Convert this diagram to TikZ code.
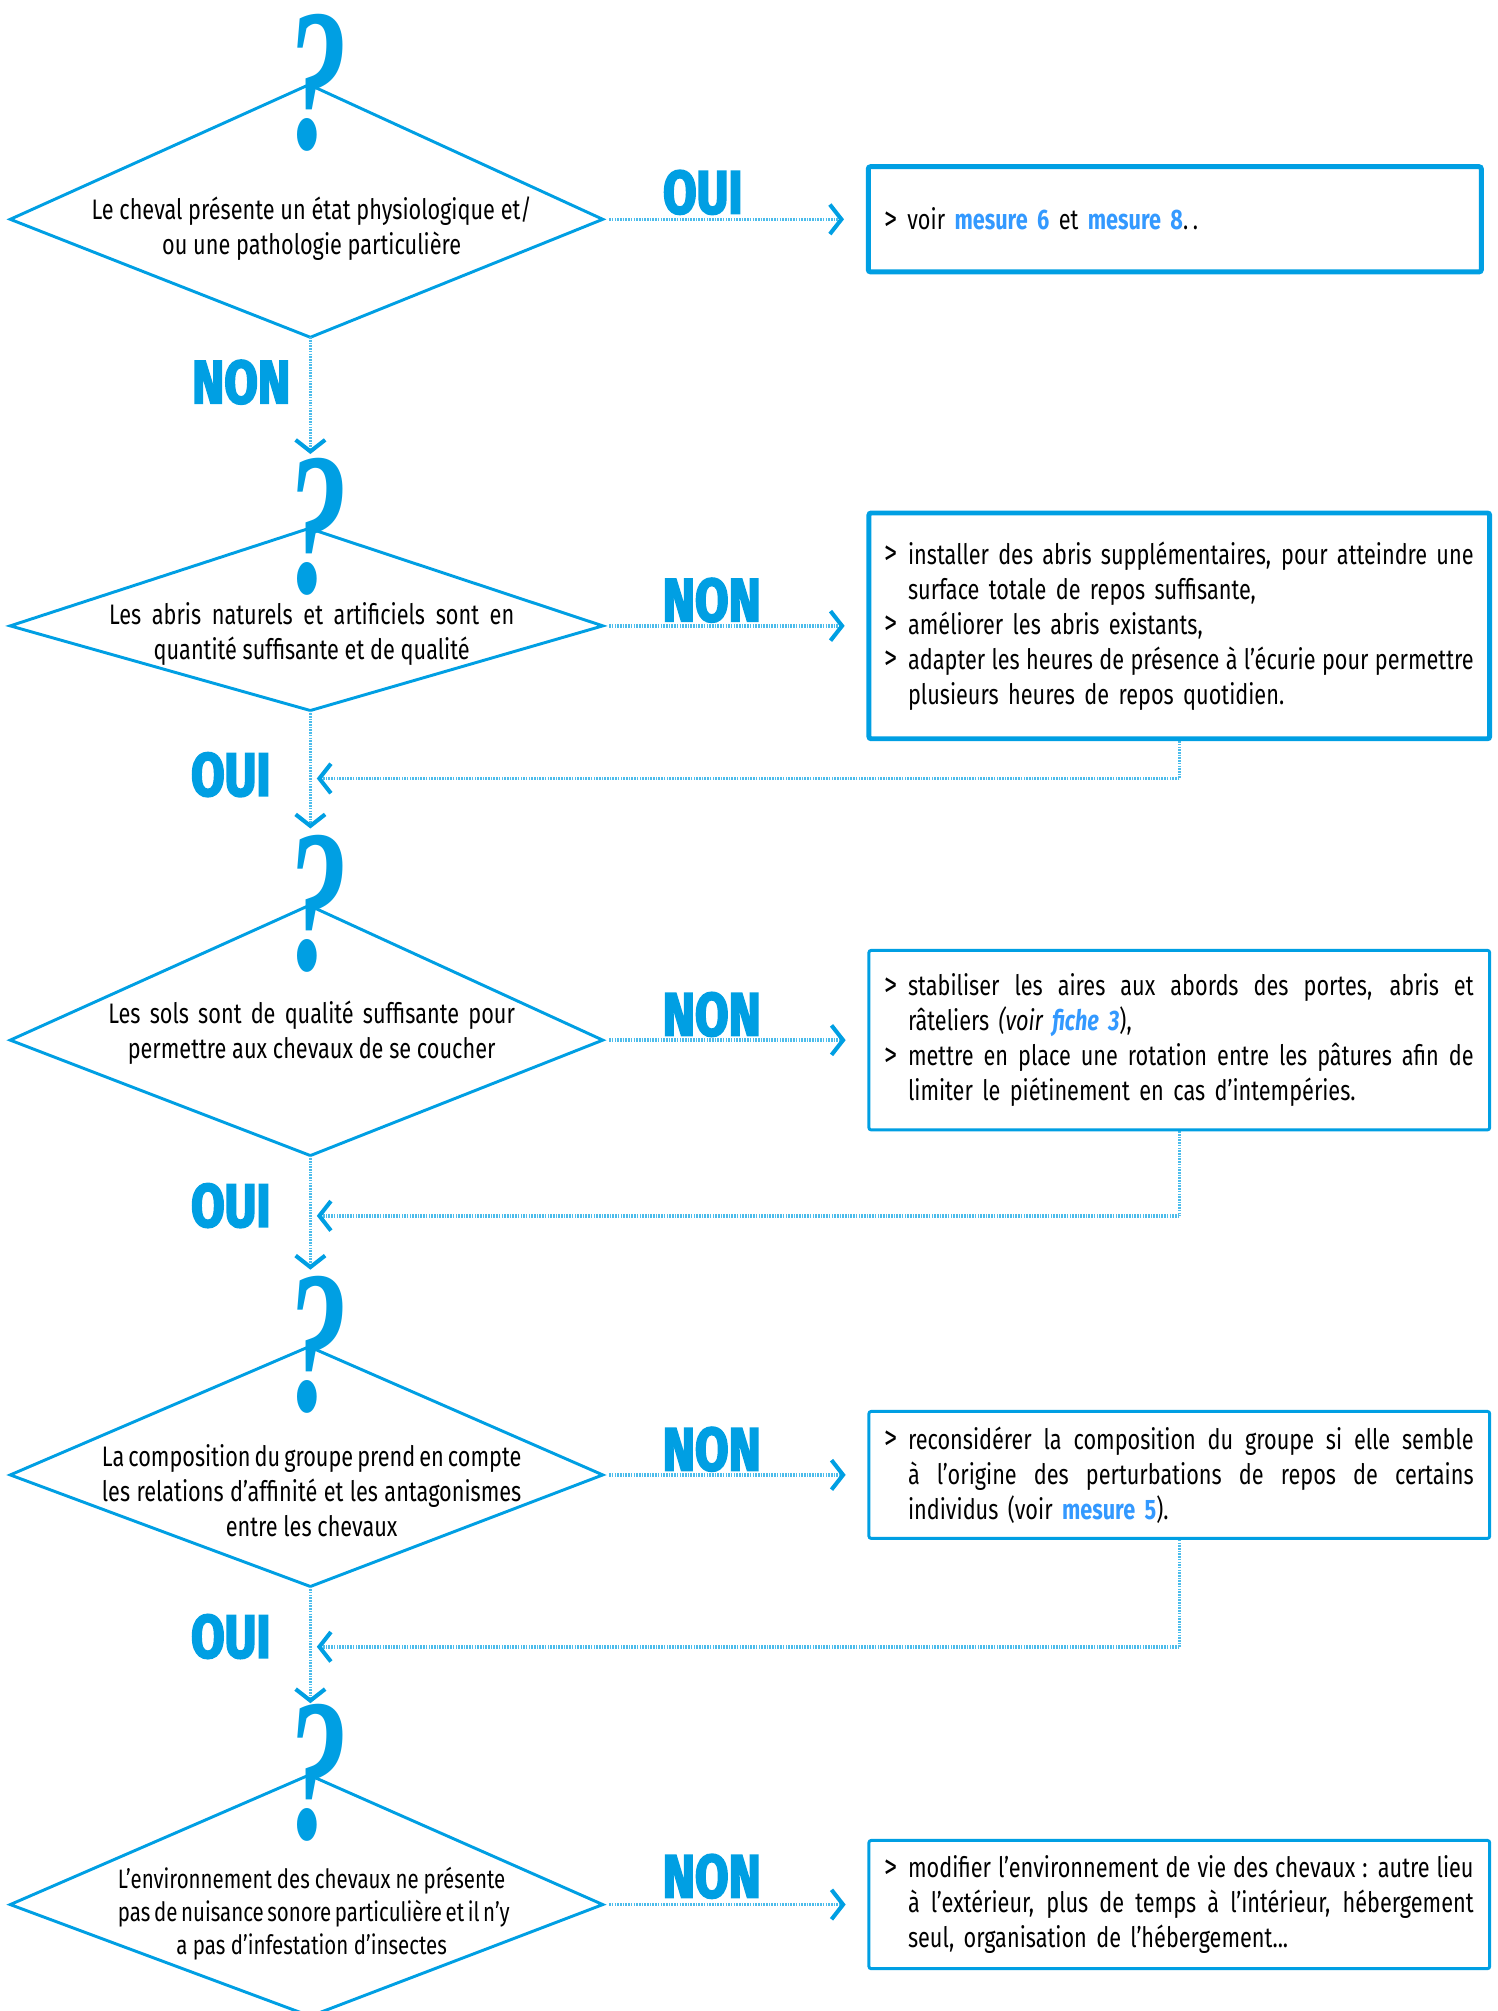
\documentclass[tikz,border=0pt]{standalone}
\usepackage{fontspec}
\setmainfont{Fira Sans}[FakeStretch=0.77]
\newfontfamily\lblfont{Fira Sans}[FakeStretch=0.8,FakeBold=3]
\newfontfamily\qfont{Liberation Serif}[FakeStretch=0.6]
\usepackage{xcolor}
\usepackage{tikz}
\usetikzlibrary{arrows.meta,backgrounds}
\pgfdeclarelayer{edgelayer}
\pgfdeclarelayer{nodelayer}
\pgfsetlayers{background,edgelayer,nodelayer,main}
\definecolor{qblue}{RGB}{0,159,227}
\definecolor{lnk}{RGB}{51,153,255}
\tikzstyle{none}=[inner sep=0mm]
\tikzstyle{diam}=[draw=qblue,line width=1.3pt,line join=miter]
\tikzstyle{qmark}=[inner sep=0mm,text=qblue,font=\qfont\bfseries\itshape\fontsize{90}{90}\selectfont]
\tikzstyle{qtext}=[inner sep=0mm,align=center,font=\fontsize{12.5}{15.5}\selectfont]
\tikzstyle{qtext small}=[qtext,font=\fontsize{11.8}{14.5}\selectfont]
\tikzstyle{act}=[draw=qblue,line width=1.3pt,rounded corners=1pt,fill=white,text width=9.18cm,inner xsep=2.5mm,inner ysep=0mm,align=left,font=\fontsize{12.5}{15.5}\selectfont]
\tikzstyle{act thick}=[act,line width=2.2pt]
\tikzstyle{lbl}=[inner sep=0mm,text=qblue,font=\lblfont\bfseries\fontsize{27}{27}\selectfont]
\tikzstyle{flow}=[draw=qblue!70,line width=1.6pt,dash pattern=on 0.7pt off 0.5pt]
\tikzstyle{flow arr}=[flow,-{Straight Barb[length=1.8mm,width=4.6mm,line width=1.8pt,color=qblue]}]
\newcommand{\jl}[2]{{\spaceskip=0pt\xspaceskip=0pt\makebox[#1][s]{#2}}}
\newcommand{\bul}{\makebox[0.36cm][l]{\fontsize{15}{15}\selectfont\raisebox{-0.3pt}{>}}}
\newcommand{\ind}{\hspace*{0.36cm}}
\newcommand{\ms}[1]{\textcolor{lnk}{\textbf{#1}}}

\begin{document}
\begin{tikzpicture}
	\useasboundingbox (0,0) rectangle (23.36,-31.36);
	\begin{pgfonlayer}{nodelayer}
		% diamond corners
		\node [style=none] (d1l) at (0.16, -3.42) {};
		\node [style=none] (d1t) at (4.82, -1.32) {};
		\node [style=none] (d1r) at (9.40, -3.42) {};
		\node [style=none] (d1b) at (4.84, -5.26) {};
		\node [style=none] (d2l) at (0.16, -9.76) {};
		\node [style=none] (d2t) at (4.82, -8.24) {};
		\node [style=none] (d2r) at (9.40, -9.76) {};
		\node [style=none] (d2b) at (4.84, -11.08) {};
		\node [style=none] (d3l) at (0.16, -16.22) {};
		\node [style=none] (d3t) at (4.82, -14.12) {};
		\node [style=none] (d3r) at (9.40, -16.22) {};
		\node [style=none] (d3b) at (4.84, -18.02) {};
		\node [style=none] (d4l) at (0.16, -23.00) {};
		\node [style=none] (d4t) at (4.82, -21.00) {};
		\node [style=none] (d4r) at (9.40, -23.00) {};
		\node [style=none] (d4b) at (4.84, -24.74) {};
		\node [style=none] (d5l) at (0.16, -29.70) {};
		\node [style=none] (d5t) at (4.82, -27.68) {};
		\node [style=none] (d5r) at (9.40, -29.70) {};
		\node [style=none] (d5b) at (4.84, -31.44) {};
		% question marks
		\node [style=qmark] (q1) at (4.94, -1.29) {?};
		\node [style=qmark] (q2) at (4.94, -8.22) {?};
		\node [style=qmark] (q3) at (4.94, -14.09) {?};
		\node [style=qmark] (q4) at (4.94, -20.97) {?};
		\node [style=qmark] (q5) at (4.94, -27.65) {?};
		% questions
		\node [style=qtext] (x1) at (4.86, -3.57) {Le cheval présente un état physiologique et/\\ou une pathologie particulière};
		\node [style=qtext] (x2) at (4.86, -9.88) {\jl{6.32cm}{Les abris naturels et artificiels sont en}\\quantité suffisante et de qualité};
		\node [style=qtext] (x3) at (4.86, -16.10) {\jl{6.34cm}{Les sols sont de qualité suffisante pour}\\permettre aux chevaux de se coucher};
		\node [style=qtext] (x4) at (4.86, -23.24) {\jl{6.54cm}{La composition du groupe prend en compte}\\\jl{6.54cm}{les relations d’affinité et les antagonismes}\\entre les chevaux};
		\node [style=qtext small] (x5) at (4.86, -29.84) {\jl{6.04cm}{L’environnement des chevaux ne présente}\\\jl{6.04cm}{pas de nuisance sonore particulière et il n’y}\\a pas d’infestation d’insectes};
		% actions
		\node [style=act thick, text width=9.06cm, minimum height=1.64cm] (b1) at (18.32, -3.42) {\bul voir \ms{mesure 6} et \ms{mesure 8}.\,.};
		\node [style=act thick, minimum height=3.52cm] (b2) at (18.39, -9.76) {\bul\jl{8.82cm}{installer des abris supplémentaires, pour atteindre une}\\\ind surface totale de repos suffisante,\\\bul améliorer les abris existants,\\\bul\jl{8.82cm}{adapter les heures de présence à l’écurie pour permettre}\\\ind plusieurs heures de repos quotidien.};
		\node [style=act, minimum height=2.80cm] (b3) at (18.39, -16.22) {\bul\jl{8.82cm}{stabiliser les aires aux abords des portes, abris et}\\\ind râteliers \textit{(voir \textcolor{lnk}{\textbf{fiche 3}}}),\\\bul\jl{8.82cm}{mettre en place une rotation entre les pâtures afin de}\\\ind limiter le piétinement en cas d’intempéries.};
		\node [style=act, minimum height=1.98cm] (b4) at (18.39, -23.00) {\bul\jl{8.82cm}{reconsidérer la composition du groupe si elle semble}\\\ind\jl{8.82cm}{à l’origine des perturbations de repos de certains}\\\ind individus (voir \ms{mesure 5}).};
		\node [style=act, minimum height=2.00cm] (b5) at (18.39, -29.70) {\bul\jl{8.82cm}{modifier l’environnement de vie des chevaux : autre lieu}\\\ind\jl{8.82cm}{à l’extérieur, plus de temps à l’intérieur, hébergement}\\\ind seul, organisation de l’hébergement...};
		% answers
		\node [style=lbl] (l1) at (10.96, -3.00) {OUI};
		\node [style=lbl] (l2) at (11.10, -9.36) {NON};
		\node [style=lbl] (l3) at (11.10, -15.82) {NON};
		\node [style=lbl] (l4) at (11.10, -22.60) {NON};
		\node [style=lbl] (l5) at (11.10, -29.26) {NON};
		\node [style=lbl] (n1) at (3.76, -5.96) {NON};
		\node [style=lbl] (o2) at (3.60, -12.08) {OUI};
		\node [style=lbl] (o3) at (3.60, -18.80) {OUI};
		\node [style=lbl] (o4) at (3.60, -25.52) {OUI};
		% arrow ends
		\node [style=none] (t2) at (4.84, -7.08) {};
		\node [style=none] (t3) at (4.84, -12.92) {};
		\node [style=none] (t4) at (4.84, -19.80) {};
		\node [style=none] (t5) at (4.84, -26.56) {};
		\node [style=none] (c2) at (18.39, -12.14) {};
		\node [style=none] (c3) at (18.39, -18.96) {};
		\node [style=none] (c4) at (18.39, -25.68) {};
		\node [style=none] (j2) at (4.84, -12.14) {};
		\node [style=none] (j3) at (4.84, -18.96) {};
		\node [style=none] (j4) at (4.84, -25.68) {};
	\end{pgfonlayer}
	\begin{pgfonlayer}{edgelayer}
		\draw [style=diam] (d1l.center) to (d1t.center) to (d1r.center) to (d1b.center) to cycle;
		\draw [style=diam] (d2l.center) to (d2t.center) to (d2r.center) to (d2b.center) to cycle;
		\draw [style=diam] (d3l.center) to (d3t.center) to (d3r.center) to (d3b.center) to cycle;
		\draw [style=diam] (d4l.center) to (d4t.center) to (d4r.center) to (d4b.center) to cycle;
		\draw [style=diam] (d5l.center) to (d5t.center) to (d5r.center) to (d5b.center) to cycle;
		\draw [style=flow arr, shorten <=1mm, shorten >=3.4mm] (d1r.center) to (b1.west);
		\draw [style=flow arr, shorten <=1mm, shorten >=3.4mm] (d2r.center) to (b2.west);
		\draw [style=flow arr, shorten <=1mm, shorten >=3.4mm] (d3r.center) to (b3.west);
		\draw [style=flow arr, shorten <=1mm, shorten >=3.4mm] (d4r.center) to (b4.west);
		\draw [style=flow arr, shorten <=1mm, shorten >=3.4mm] (d5r.center) to (b5.west);
		\draw [style=flow arr] (d1b.center) to (t2.center);
		\draw [style=flow arr] (d2b.center) to (t3.center);
		\draw [style=flow arr] (d3b.center) to (t4.center);
		\draw [style=flow arr] (d4b.center) to (t5.center);
		\draw [style=flow] (b2.south) to (c2.center);
		\draw [style=flow arr, shorten >=1mm] (c2.center) to (j2.center);
		\draw [style=flow] (b3.south) to (c3.center);
		\draw [style=flow arr, shorten >=1mm] (c3.center) to (j3.center);
		\draw [style=flow] (b4.south) to (c4.center);
		\draw [style=flow arr, shorten >=1mm] (c4.center) to (j4.center);
	\end{pgfonlayer}
\end{tikzpicture}
\end{document}
